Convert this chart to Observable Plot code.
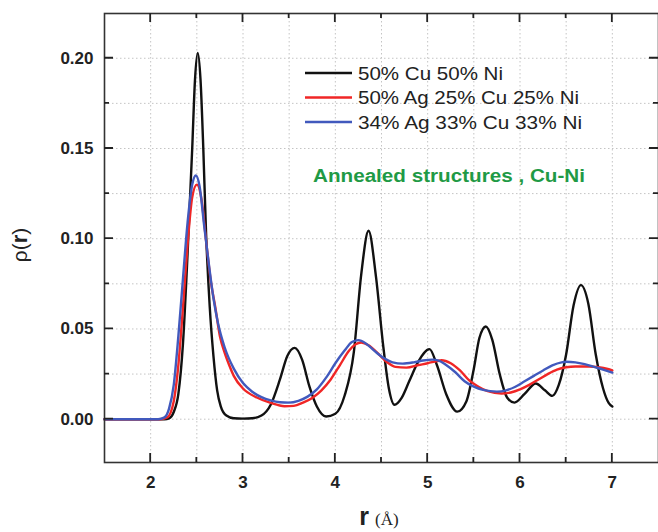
<!DOCTYPE html>
<html>
<head>
<meta charset="utf-8">
<script src="https://cdn.jsdelivr.net/npm/d3@7"></script>
<script src="https://cdn.jsdelivr.net/npm/@observablehq/plot@0.6"></script>
<style>
  body { margin: 0; background: #fff; }
  svg { display: block; }
</style>
</head>
<body>
<div id="chart"></div>
<script>
// Pair distribution ρ(r) of annealed alloys, r in Å
const seriesNames = ["50% Cu 50% Ni", "50% Ag 25% Cu 25% Ni", "34% Ag 33% Cu 33% Ni"];
const seriesColors = ["#111111", "#f02626", "#4159bd"];

const cuNi = [
  [1.5, 0], [2.0, 0], [2.15, 0], [2.2, 0.0005], [2.25, 0.004], [2.3, 0.014],
  [2.35, 0.042], [2.4, 0.092], [2.45, 0.150], [2.48, 0.188], [2.51, 0.203],
  [2.54, 0.188], [2.57, 0.150], [2.6, 0.103], [2.64, 0.062], [2.68, 0.035],
  [2.72, 0.016], [2.76, 0.007], [2.82, 0.002], [2.9, 0.0005], [3.0, 0.0003],
  [3.1, 0.0005], [3.2, 0.002], [3.3, 0.008], [3.4, 0.022], [3.48, 0.035],
  [3.56, 0.0395], [3.64, 0.033], [3.72, 0.018], [3.8, 0.007], [3.9, 0.0015],
  [4.0, 0.003], [4.1, 0.013], [4.2, 0.037], [4.28, 0.080], [4.36, 0.1044],
  [4.44, 0.079], [4.52, 0.040], [4.58, 0.017], [4.64, 0.008], [4.72, 0.012],
  [4.8, 0.021], [4.9, 0.032], [5.02, 0.0388], [5.1, 0.030], [5.2, 0.014],
  [5.32, 0.0042], [5.42, 0.010], [5.5, 0.028], [5.56, 0.045], [5.63, 0.0514],
  [5.7, 0.044], [5.78, 0.025], [5.86, 0.012], [5.94, 0.0092], [6.05, 0.014],
  [6.17, 0.0198], [6.27, 0.016], [6.35, 0.0129], [6.42, 0.019], [6.5, 0.036],
  [6.58, 0.063], [6.66, 0.0743], [6.74, 0.064], [6.82, 0.036], [6.9, 0.017],
  [6.96, 0.009], [7.0, 0.007]
];

const ag50CuNi = [
  [1.5, 0], [2.1, 0], [2.18, 0.001], [2.25, 0.010], [2.3, 0.030], [2.35, 0.062],
  [2.4, 0.097], [2.45, 0.123], [2.5, 0.130], [2.55, 0.122], [2.6, 0.099],
  [2.65, 0.077], [2.7, 0.062], [2.75, 0.046], [2.8, 0.037], [2.85, 0.030],
  [2.9, 0.024], [3.0, 0.017], [3.15, 0.012], [3.3, 0.009], [3.45, 0.0072],
  [3.55, 0.0074], [3.65, 0.0092], [3.75, 0.0118], [3.85, 0.016], [3.95, 0.022],
  [4.05, 0.030], [4.15, 0.038], [4.22, 0.0415], [4.28, 0.0425], [4.36, 0.041],
  [4.45, 0.037], [4.55, 0.032], [4.65, 0.029], [4.77, 0.0286], [4.9, 0.030],
  [5.0, 0.031], [5.1, 0.0322], [5.15, 0.0327], [5.25, 0.031], [5.35, 0.027],
  [5.45, 0.0215], [5.55, 0.018], [5.65, 0.0155], [5.8, 0.0142], [5.9, 0.0148],
  [6.0, 0.0165], [6.1, 0.019], [6.2, 0.022], [6.3, 0.025], [6.4, 0.0275],
  [6.5, 0.0288], [6.6, 0.0292], [6.75, 0.0292], [6.85, 0.0288], [6.95, 0.0278],
  [7.0, 0.027]
];

const ag34CuNi = [
  [1.5, 0], [2.08, 0], [2.15, 0.001], [2.2, 0.006], [2.25, 0.019], [2.3, 0.046],
  [2.35, 0.078], [2.4, 0.109], [2.45, 0.130], [2.49, 0.135], [2.53, 0.129],
  [2.58, 0.107], [2.63, 0.086], [2.68, 0.067], [2.73, 0.053], [2.8, 0.040],
  [2.9, 0.028], [3.0, 0.020], [3.1, 0.0152], [3.2, 0.0122], [3.3, 0.0104],
  [3.4, 0.0094], [3.5, 0.0092], [3.6, 0.0102], [3.7, 0.0125], [3.8, 0.0165],
  [3.9, 0.023], [4.0, 0.031], [4.1, 0.038], [4.18, 0.0428], [4.25, 0.0438],
  [4.33, 0.042], [4.42, 0.038], [4.52, 0.034], [4.62, 0.0315], [4.73, 0.0308],
  [4.85, 0.0315], [4.95, 0.0325], [5.05, 0.033], [5.12, 0.0325], [5.2, 0.030],
  [5.3, 0.026], [5.4, 0.021], [5.5, 0.018], [5.6, 0.0162], [5.75, 0.0153],
  [5.85, 0.016], [5.95, 0.018], [6.05, 0.021], [6.15, 0.024], [6.25, 0.027],
  [6.35, 0.0298], [6.45, 0.0315], [6.5, 0.0318], [6.6, 0.0315], [6.7, 0.0305],
  [6.8, 0.029], [6.9, 0.0275], [7.0, 0.0258]
];

const xMajorTicks = [2, 3, 4, 5, 6, 7];
const xMinorTicks = [2.5, 3.5, 4.5, 5.5, 6.5];
const yMajorTicks = [0, 0.05, 0.10, 0.15, 0.20];
const yMinorTicks = [0.025, 0.075, 0.125, 0.175];
const xGrid = [2, 2.5, 3, 3.5, 4, 4.5, 5, 5.5, 6, 6.5, 7];
const yGrid = [0, 0.025, 0.05, 0.075, 0.10, 0.125, 0.15, 0.175, 0.20];

const noteText = "Annealed structures , Cu-Ni";

const rows = [cuNi, ag50CuNi, ag34CuNi].flatMap((s, i) =>
  s.map(([r, rho]) => ({ r, rho, series: seriesNames[i] }))
);

const font = "'Liberation Sans', Arial, sans-serif";
const axisInk = "#222";
const gridStyle = { stroke: "#c4c4c4", strokeOpacity: 1, strokeDasharray: "1.5,2.5", strokeWidth: 1 };

const W = 658, H = 532;
const M = { left: 104, right: 0, top: 13, bottom: 70 };

const plot = Plot.plot({
  width: W,
  height: H,
  marginLeft: M.left,
  marginRight: M.right,
  marginTop: M.top,
  marginBottom: M.bottom,
  style: { fontFamily: font, background: "#fff", color: axisInk },
  x: { domain: [1.5, 7.5] },
  y: { domain: [-0.024, 0.2248] },
  color: { domain: seriesNames, range: seriesColors },
  marks: [
    Plot.gridX(xGrid, gridStyle),
    Plot.gridY(yGrid, gridStyle),
    Plot.line(rows, {
      x: "r", y: "rho", z: "series", stroke: "series",
      strokeWidth: 2.4, curve: "monotone-x"
    }),
    Plot.axisX(xMajorTicks, {
      anchor: "bottom", tickSize: 0, tickPadding: 13, label: null,
      fontSize: 17, fontWeight: "bold", tickFormat: d3.format("d"), fill: axisInk
    }),
    Plot.axisY(yMajorTicks, {
      anchor: "left", tickSize: 0, tickPadding: 11, label: null,
      fontSize: 17, fontWeight: "bold", tickFormat: d3.format(".2f"), fill: axisInk
    }),
    Plot.frame({ stroke: "#333", strokeWidth: 1.6 })
  ]
});

const svg = d3.select(plot);
const sx = plot.scale("x"), sy = plot.scale("y");

// inward tick marks on all four sides, positioned through the plot's scales
const edgeL = M.left, edgeR = W - M.right, edgeT = M.top, edgeB = H - M.bottom;
const tickPath = [];
[[xMajorTicks, 9], [xMinorTicks, 5]].forEach(([vals, len]) => {
  vals.forEach(v => {
    const px = sx.apply(v);
    tickPath.push(`M${px},${edgeB}V${edgeB - len}`, `M${px},${edgeT}V${edgeT + len}`);
  });
});
[[yMajorTicks, 9], [yMinorTicks, 5]].forEach(([vals, len]) => {
  vals.forEach(v => {
    const py = sy.apply(v);
    tickPath.push(`M${edgeL},${py}H${edgeL + len}`, `M${edgeR},${py}H${edgeR - len}`);
  });
});
svg.append("path")
  .attr("d", tickPath.join(""))
  .attr("fill", "none")
  .attr("stroke", "#222")
  .attr("stroke-width", 1.8);

// axis titles
const yTitle = svg.append("text")
  .attr("transform", "translate(27,245) rotate(-90)")
  .attr("text-anchor", "middle")
  .attr("font-family", font)
  .attr("fill", axisInk);
yTitle.append("tspan").attr("font-size", 21).text("ρ(");
yTitle.append("tspan").attr("font-size", 22).attr("font-weight", "bold").text("r");
yTitle.append("tspan").attr("font-size", 21).text(")");

const xTitle = svg.append("text")
  .attr("x", 379).attr("y", 525)
  .attr("text-anchor", "middle")
  .attr("fill", axisInk);
xTitle.append("tspan").attr("font-family", font).attr("font-size", 25).attr("font-weight", "bold").text("r");
xTitle.append("tspan").attr("font-family", "'Liberation Serif', 'DejaVu Serif', serif").attr("font-size", 17).attr("dx", 6).text("(Å)");

// legend
const legendWidths = [145, 221, 224];
const legend = svg.append("g")
  .attr("font-family", font).attr("font-size", 19).attr("fill", "#222")
  .attr("text-anchor", "start");
seriesNames.forEach((name, i) => {
  const ly = 73 + i * 24.5;
  legend.append("line")
    .attr("x1", 305).attr("x2", 352).attr("y1", ly).attr("y2", ly)
    .attr("stroke", seriesColors[i]).attr("stroke-width", 2.4);
  legend.append("text")
    .attr("x", 358).attr("y", ly).attr("dy", "0.36em")
    .attr("textLength", legendWidths[i]).attr("lengthAdjust", "spacingAndGlyphs")
    .text(name);
});

// annotation
svg.append("text")
  .attr("x", 313).attr("y", 176).attr("dy", "0.36em")
  .attr("text-anchor", "start")
  .attr("font-family", font).attr("font-size", 18).attr("font-weight", "bold")
  .attr("fill", "#1f9a45")
  .attr("textLength", 272).attr("lengthAdjust", "spacingAndGlyphs")
  .text(noteText);

document.getElementById("chart").append(plot);
</script>
</body>
</html>
